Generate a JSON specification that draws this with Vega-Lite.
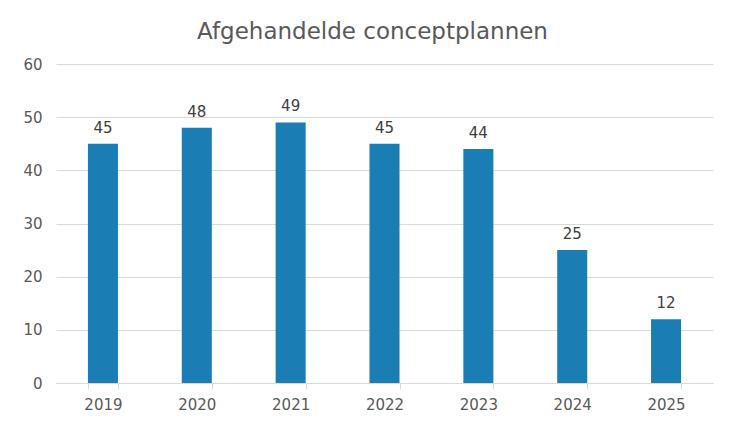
{
  "$schema": "https://vega.github.io/schema/vega-lite/v6.json",
  "width": 657,
  "height": 319,
  "autosize": "none",
  "padding": {"left": 56, "top": 64, "right": 38, "bottom": 49},
  "background": "white",
  "config": {
    "view": {"stroke": null},
    "font": "DejaVu Sans"
  },
  "title": {
    "text": "Afgehandelde conceptplannen",
    "font": "DejaVu Sans",
    "fontSize": 23,
    "fontWeight": "normal",
    "color": "#595959",
    "anchor": "middle",
    "baseline": "alphabetic",
    "offset": -5,
    "dx": -12
  },
  "data": {
    "values": [
      {"jaar": "2019", "aantal": 45},
      {"jaar": "2020", "aantal": 48},
      {"jaar": "2021", "aantal": 49},
      {"jaar": "2022", "aantal": 45},
      {"jaar": "2023", "aantal": 44},
      {"jaar": "2024", "aantal": 25},
      {"jaar": "2025", "aantal": 12}
    ]
  },
  "encoding": {
    "x": {
      "field": "jaar",
      "type": "ordinal",
      "scale": {"paddingInner": 0.68, "paddingOuter": 0.34},
      "axis": {
        "title": null,
        "labelAngle": 0,
        "labelFont": "DejaVu Sans",
        "labelFontSize": 15,
        "labelColor": "#595959",
        "labelPadding": 8,
        "domainColor": "#d9d9d9",
        "tickColor": "#d9d9d9",
        "tickSize": 6,
        "tickBand": "extent",
        "grid": false
      }
    },
    "y": {
      "field": "aantal",
      "type": "quantitative",
      "scale": {"domain": [0, 60], "nice": false},
      "axis": {
        "title": null,
        "values": [0, 10, 20, 30, 40, 50, 60],
        "labelFont": "DejaVu Sans",
        "labelFontSize": 15,
        "labelColor": "#595959",
        "labelPadding": 14,
        "domain": false,
        "ticks": false,
        "gridColor": "#d9d9d9",
        "gridWidth": 1
      }
    }
  },
  "layer": [
    {"mark": {"type": "bar", "color": "#1a7db4"}},
    {
      "mark": {
        "type": "text",
        "baseline": "alphabetic",
        "dy": -11,
        "font": "DejaVu Sans",
        "fontSize": 15,
        "color": "#404040"
      },
      "encoding": {"text": {"field": "aantal", "type": "quantitative"}}
    }
  ]
}
